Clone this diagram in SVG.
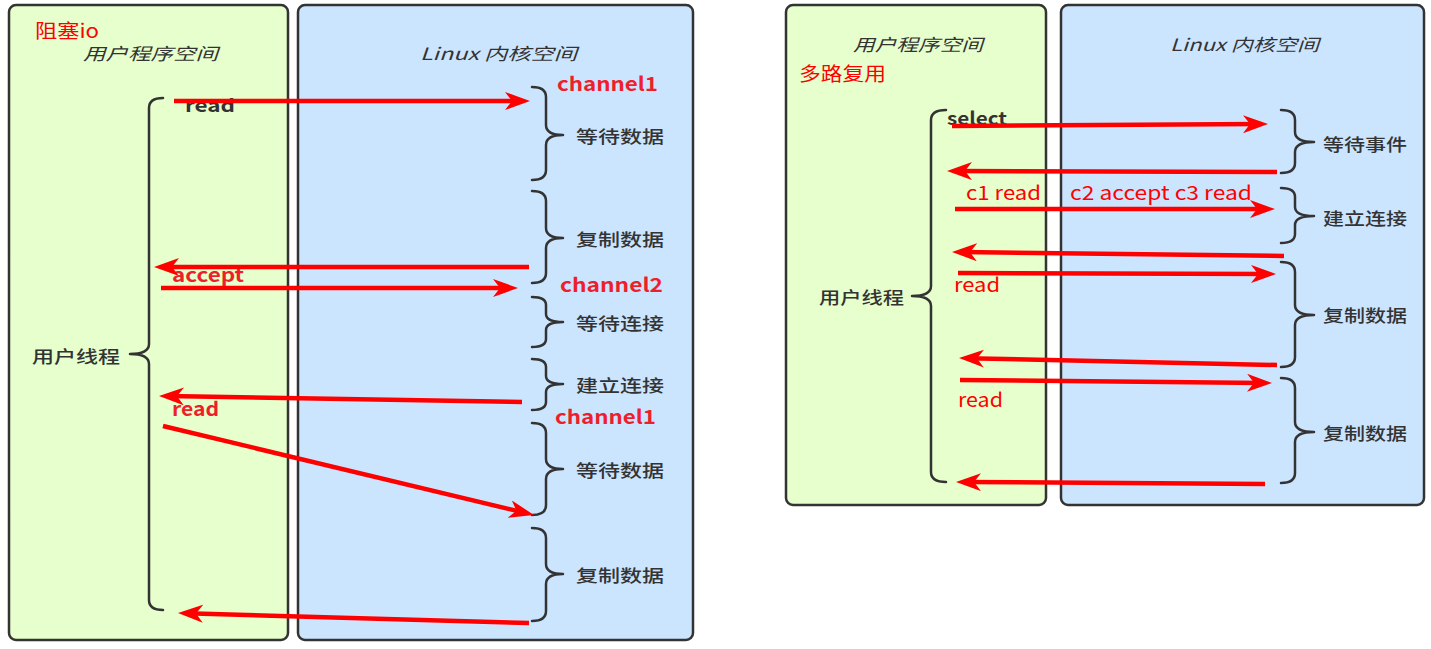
<svg xmlns="http://www.w3.org/2000/svg" width="1431" height="649" viewBox="0 0 1431 649">
<style>
.panelG{fill:#e6ffcc;stroke:#333;stroke-width:2.5}
.panelB{fill:#cce5ff;stroke:#333;stroke-width:2.5}
.t{font-family:"Noto Sans CJK SC","Noto Sans",sans-serif;fill:#333;font-size:17.5px;font-weight:500}
.ti{font-family:"Noto Sans CJK SC","Noto Sans",sans-serif;fill:#333;font-size:17px;font-style:italic}
.c{dominant-baseline:central}
.rb{font-family:"Noto Sans CJK SC","Noto Sans",sans-serif;fill:#ee1f2b;font-size:19px;font-weight:bold}
.rn{font-family:"Noto Sans CJK SC","Noto Sans",sans-serif;fill:#ff0000;font-size:19px}
.db{font-family:"Noto Sans CJK SC","Noto Sans",sans-serif;fill:#333;font-size:18px;font-weight:bold}
.brace{fill:none;stroke:#333;stroke-width:2.5;stroke-linecap:round;stroke-linejoin:round}
.arr{fill:none;stroke:#ff0000;stroke-width:4.5;marker-end:url(#ah)}
</style>
<defs>
<marker id="ah" markerUnits="userSpaceOnUse" markerWidth="26" markerHeight="20" refX="17" refY="9" orient="auto">
<path d="M0,0 L25,9 L0,18 L7,9 Z" fill="#ff0000"/>
</marker>
</defs>
<rect width="1431" height="649" fill="#ffffff"/>

<!-- Left diagram: blocking IO -->
<g id="left-user-space">
<rect class="panelG" x="9" y="5" width="279" height="635" rx="7"/>
<text class="rn c" x="35" y="29" font-size="17" textLength="64" lengthAdjust="spacingAndGlyphs">阻塞io</text>
<text class="ti c" x="83" y="52" textLength="135" lengthAdjust="spacingAndGlyphs">用户程序空间</text>
</g>
<g id="left-kernel-space">
<rect class="panelB" x="298" y="5" width="395" height="635" rx="7"/>
<text class="ti c" x="420" y="52" textLength="157" lengthAdjust="spacingAndGlyphs">Linux 内核空间</text>
</g>
<g id="left-user-thread">
<path class="brace" d="M163,98 Q149,98 149,108 L149,344 Q149,354 130,354 Q149,354 149,364 L149,600 Q149,610 163,610"/>
<text class="t c" x="32" y="355" textLength="88" lengthAdjust="spacingAndGlyphs">用户线程</text>
</g>
<g id="left-k1">
<path class="brace" d="M532,87 Q546,87 546,97 L546,125 Q546,135 563,135 Q546,135 546,145 L546,170 Q546,180 532,180"/>
<text class="t c" x="576" y="135" textLength="88" lengthAdjust="spacingAndGlyphs">等待数据</text>
</g>
<g id="left-k2">
<path class="brace" d="M532,191 Q546,191 546,201 L546,228 Q546,238 563,238 Q546,238 546,248 L546,273 Q546,283 532,283"/>
<text class="t c" x="576" y="238" textLength="88" lengthAdjust="spacingAndGlyphs">复制数据</text>
</g>
<g id="left-k3">
<path class="brace" d="M532,297 Q546,297 546,305 L546,314 Q546,322 563,322 Q546,322 546,330 L546,339 Q546,347 532,347"/>
<text class="t c" x="576" y="322" textLength="88" lengthAdjust="spacingAndGlyphs">等待连接</text>
</g>
<g id="left-k4">
<path class="brace" d="M532,359 Q546,359 546,367 L546,376 Q546,384 563,384 Q546,384 546,392 L546,402 Q546,410 532,410"/>
<text class="t c" x="576" y="384" textLength="88" lengthAdjust="spacingAndGlyphs">建立连接</text>
</g>
<g id="left-k5">
<path class="brace" d="M532,423 Q546,423 546,433 L546,459 Q546,469 563,469 Q546,469 546,479 L546,505 Q546,515 532,515"/>
<text class="t c" x="576" y="469" textLength="88" lengthAdjust="spacingAndGlyphs">等待数据</text>
</g>
<g id="left-k6">
<path class="brace" d="M532,528 Q546,528 546,538 L546,564 Q546,574 563,574 Q546,574 546,584 L546,611 Q546,621 532,621"/>
<text class="t c" x="576" y="574" textLength="88" lengthAdjust="spacingAndGlyphs">复制数据</text>
</g>
<g id="left-labels">
<text class="db" x="185" y="112" textLength="50" lengthAdjust="spacingAndGlyphs">read</text>
<text class="rb" x="557" y="91" textLength="101" lengthAdjust="spacingAndGlyphs">channel1</text>
<text class="rb" x="172" y="282" font-size="18" textLength="72" lengthAdjust="spacingAndGlyphs">accept</text>
<text class="rb" x="560" y="292" textLength="103" lengthAdjust="spacingAndGlyphs">channel2</text>
<text class="rb" x="172" y="416" font-size="18" textLength="47" lengthAdjust="spacingAndGlyphs">read</text>
<text class="rb" x="555" y="424" textLength="101" lengthAdjust="spacingAndGlyphs">channel1</text>
</g>

<!-- Right diagram: multiplexing -->
<g id="right-user-space">
<rect class="panelG" x="786" y="5" width="260" height="500" rx="7"/>
<text class="ti c" x="853" y="43" textLength="130" lengthAdjust="spacingAndGlyphs">用户程序空间</text>
<text class="rn c" x="799" y="72" font-size="17" textLength="87" lengthAdjust="spacingAndGlyphs">多路复用</text>
</g>
<g id="right-kernel-space">
<rect class="panelB" x="1061" y="5" width="363" height="500" rx="7"/>
<text class="ti c" x="1170" y="43" textLength="149" lengthAdjust="spacingAndGlyphs">Linux 内核空间</text>
</g>
<g id="right-user-thread">
<path class="brace" d="M946,110 Q931,110 931,120 L931,286 Q931,296 912,296 Q931,296 931,306 L931,472 Q931,482 946,482"/>
<text class="t c" x="819" y="296" textLength="85" lengthAdjust="spacingAndGlyphs">用户线程</text>
</g>
<g id="right-k1">
<path class="brace" d="M1281,110 Q1295,110 1295,120 L1295,132 Q1295,142 1314,142 Q1295,142 1295,152 L1295,163 Q1295,173 1281,173"/>
<text class="t c" x="1323" y="143" textLength="84" lengthAdjust="spacingAndGlyphs">等待事件</text>
</g>
<g id="right-k2">
<path class="brace" d="M1281,188 Q1295,188 1295,197 L1295,207 Q1295,216 1314,216 Q1295,216 1295,225 L1295,234 Q1295,243 1281,243"/>
<text class="t c" x="1323" y="217" textLength="84" lengthAdjust="spacingAndGlyphs">建立连接</text>
</g>
<g id="right-k3">
<path class="brace" d="M1281,262 Q1295,262 1295,272 L1295,305 Q1295,315 1314,315 Q1295,315 1295,325 L1295,357 Q1295,367 1281,367"/>
<text class="t c" x="1323" y="314" textLength="84" lengthAdjust="spacingAndGlyphs">复制数据</text>
</g>
<g id="right-k4">
<path class="brace" d="M1281,378 Q1295,378 1295,388 L1295,422 Q1295,432 1314,432 Q1295,432 1295,442 L1295,473 Q1295,483 1281,483"/>
<text class="t c" x="1323" y="432" textLength="84" lengthAdjust="spacingAndGlyphs">复制数据</text>
</g>
<g id="right-labels">
<text class="db" x="947" y="125" textLength="60" lengthAdjust="spacingAndGlyphs">select</text>
<text class="rn" x="966" y="200" textLength="75" lengthAdjust="spacingAndGlyphs">c1 read</text>
<text class="rn" x="1070" y="200" textLength="182" lengthAdjust="spacingAndGlyphs">c2 accept c3 read</text>
<text class="rn" x="954" y="292" textLength="46" lengthAdjust="spacingAndGlyphs">read</text>
<text class="rn" x="958" y="407" textLength="45" lengthAdjust="spacingAndGlyphs">read</text>
</g>

<g id="connectors">
<path class="arr" d="M174,101 L522,101"/>
<path class="arr" d="M529,267 L162,267"/>
<path class="arr" d="M161,288 L510,288"/>
<path class="arr" d="M522,402 L167,396.1"/>
<path class="arr" d="M163,426 L526.2,513.1"/>
<path class="arr" d="M529,623 L186,613.2"/>
<path class="arr" d="M952,126 L1260,124.05"/>
<path class="arr" d="M1277,172 L955,171"/>
<path class="arr" d="M955,209 L1267,209"/>
<path class="arr" d="M1284,256 L960,252.1"/>
<path class="arr" d="M958,273 L1268,274"/>
<path class="arr" d="M1277,365 L967,358.2"/>
<path class="arr" d="M960,380 L1264,382.9"/>
<path class="arr" d="M1265,484 L964,482"/>
</g>
</svg>
